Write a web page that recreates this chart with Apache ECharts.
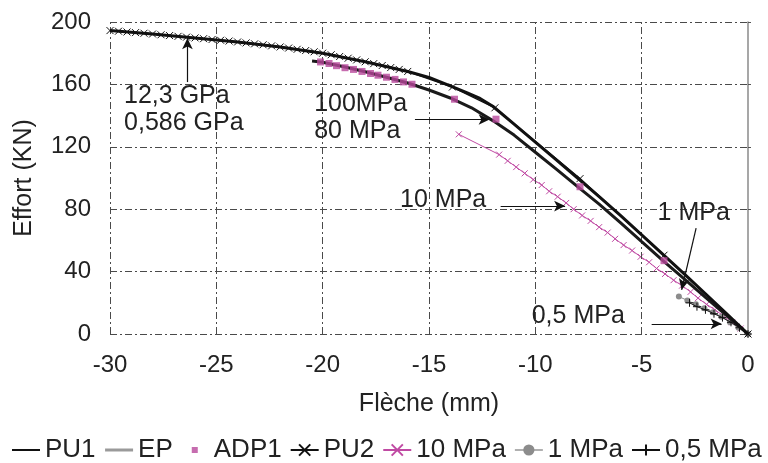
<!DOCTYPE html>
<html>
<head>
<meta charset="utf-8">
<script src="https://cdn.jsdelivr.net/npm/echarts@6/dist/echarts.min.js"></script>
<style>
html,body{margin:0;padding:0;background:#fff;}
#chart{width:768px;height:463px;}
</style>
</head>
<body>
<div id="chart"></div>
<script>
// ---- data (x = Flèche (mm), y = Effort (kN)) ----
const xTicks = [-30, -25, -20, -15, -10, -5, 0];
const yTicks = [0, 40, 80, 120, 160, 200];

const pu1 = [[-30,194.5],[-28,192.3],[-26,189.8],[-24,187.2],[-22,184],[-20,180],[-18,174.5],[-16,168.3],[-15,164.5],[-14,159],[-13.2,154.5],[-12.6,151],[-12,146],[-11,134.5],[-10,123],[-9,111.5],[-8,99.8],[-7,88],[-6,76],[-5,63.5],[-4,51],[-3,38.5],[-2,25.8],[-1,13],[0,0]];

const pu2 = [[-30,194.5],[-29.6,194.1],[-29.2,193.6],[-28.8,193.2],[-28.4,192.8],[-28,192.3],[-27.6,191.8],[-27.2,191.3],[-26.8,190.8],[-26.4,190.3],[-26,189.8],[-25.6,189.3],[-25.2,188.8],[-24.8,188.3],[-24.4,187.8],[-24,187.2],[-23.6,186.6],[-23.2,186],[-22.8,185.4],[-22.4,184.7],[-22,184],[-21.6,183.3],[-21.2,182.5],[-20.8,181.7],[-20.4,180.9],[-20,180],[-19.6,179],[-19.2,177.9],[-18.8,176.8],[-18.4,175.7],[-18,174.5],[-17.6,173.3],[-17.2,172.1],[-16.8,170.8],[-16.4,169.6],[-16,168.3],[-13.9,158.3],[-11.9,145],[-7.9,99.6],[-3.95,50.5],[0,0]];

const ep = [[-20.5,175],[-20,174.2],[-19,171.3],[-18,168.1],[-17,164.6],[-16,160.9],[-15,156.4],[-14,151.3],[-13,145],[-12,136.8],[-11,127.5],[-10,116.5],[-9,105.5],[-8,94.3],[-7,83.3],[-6,71.4],[-5,59.2],[-4,47.1],[-3,35.3],[-2,23.5],[-1,11.8],[0,0]];

const adp1 = [[-20.1,174.4],[-19.7,173.4],[-19.35,172],[-18.95,170.7],[-18.55,169.6],[-18.15,168.3],[-17.75,167],[-17.4,165.9],[-17,164.6],[-16.6,163.2],[-16.2,161.6],[-15.8,160.1],[-13.8,150.5],[-11.85,137.7],[-7.9,94.4],[-3.95,47]];

const mpa10 = [[-13.6,128],[-11.7,115],[-11.3,111],[-10.9,107],[-10.5,103],[-10.1,99],[-9.7,95.5],[-9.35,91.5],[-8.95,88],[-8.55,84],[-8.2,80],[-7.8,76],[-7.4,72.5],[-7,68.5],[-6.6,65],[-6.25,61],[-5.85,57],[-5.45,53.5],[-5.05,49.5],[-4.65,46],[-4.3,42],[-3.9,38.5],[-3.5,34.5],[-3.1,31],[-2.7,27],[-2.35,23],[-1.95,19],[-1.55,15.5],[-1.15,11.5],[-0.75,7.5],[-0.35,3.5],[0,0]];

const mpa1 = [[-3.25,24],[-2.85,21.5],[-2.45,19],[-2.05,16.5],[-1.65,14],[-1.25,11],[-0.85,7.5],[-0.45,4],[0,0]];

const mpa05 = [[-2.75,20],[-2.4,17.5],[-2,15.5],[-1.6,13],[-1.2,10.5],[-0.8,7.5],[-0.4,4],[0,0]];

// annotations: text anchor (left/middle) and arrow from -> to, in data units
const annTexts = ['12,3 GPa\n0,586 GPa', '100MPa\n80 MPa', '10 MPa', '1 MPa', '0,5 MPa'];
const annAt = [[-29.34,144], [-20.4,138.4], [-16.36,85.9], [-4.25,77.4], [-10.17,11.2]];
const annFrom = [[-26.36,161.5], [-15.66,137.5], [-11.63,82], [-2.44,67.8], [-4.53,6.5]];
const annTo = [[-26.36,189.6], [-12.15,137.5], [-8.6,82], [-3.12,28.3], [-1.24,6.5]];

// ---- chart ----
const FONT = "'Liberation Sans', Arial, Helvetica, sans-serif";
const X_PATH = 'path://M0,0L10,10M10,0L0,10';
const PLUS_PATH = 'path://M5,0L5,10M0,5L10,5';
const SQ_PATH = 'path://M0,0L0.05,0L0.05,0.05Z M11,4L17,4L17,10L11,10Z M27.95,13.95L28,13.95L28,14Z';
const PINK = '#c04aa3';
const GRID_DASH = [7,3,2,3];

const chart = echarts.init(document.getElementById('chart'), null, {renderer:'canvas'});

const markLineData = annFrom.map((f,i)=>[
  {coord:f, symbol:'none'},
  {coord:annTo[i], symbol:'arrow', symbolSize:[8,11]}
]);
const markPointData = annTexts.map((t,i)=>({
  coord: annAt[i], value: t, symbol:'circle', symbolSize:0,
  label:{show:true, formatter:t, position:'inside', align:'left', verticalAlign:'middle',
         color:'#222', fontSize:25, fontFamily:FONT, lineHeight:27}
}));
// vertical grid lines at the x ticks (drawn as markLines since they follow the axis scale)
const vGridData = xTicks.slice(0, -1).map(v => ({xAxis: v}));

const option = {
  animation:false,
  backgroundColor:'#fff',
  textStyle:{fontFamily:FONT},
  grid:{left:110, right:20, top:22, bottom:129, containLabel:false},
  legend:{
    left:11, top:432, itemGap:8, itemWidth:28, itemHeight:14, padding:[5,0,5,0],
    textStyle:{fontSize:26, color:'#222', fontFamily:FONT},
    data:[
      {name:'PU1', itemStyle:{opacity:0}},
      {name:'EP', lineStyle:{color:'#9a9a9a', width:3}, itemStyle:{opacity:0}},
      {name:'ADP1', icon:SQ_PATH},
      {name:'PU2'},
      {name:'10 MPa'},
      {name:'1 MPa', lineStyle:{color:'#b0b0b0'}},
      {name:'0,5 MPa'}
    ]
  },
  xAxis:{
    type:'value', min:xTicks[0], max:xTicks[xTicks.length-1], interval:5,
    name:'Flèche (mm)', nameLocation:'middle', nameGap:58,
    nameTextStyle:{fontSize:25, color:'#222', fontFamily:FONT},
    axisLine:{show:false}, axisTick:{show:false},
    axisLabel:{fontSize:24, color:'#222', margin:19, fontFamily:FONT},
    splitLine:{show:false}
  },
  yAxis:[{
    type:'value', min:yTicks[0], max:yTicks[yTicks.length-1], interval:40,
    name:'Effort (KN)', nameLocation:'middle', nameGap:73,
    nameTextStyle:{fontSize:25, color:'#222', fontFamily:FONT},
    axisLine:{show:false}, axisTick:{show:false},
    axisLabel:{fontSize:24, color:'#222', margin:19, fontFamily:FONT},
    splitLine:{show:true, lineStyle:{color:'#4a4a4a', width:1, type:GRID_DASH}}
  },{
    type:'value', position:'right', min:yTicks[0], max:yTicks[yTicks.length-1], interval:40,
    axisLine:{show:true, lineStyle:{color:'#8a8a8a', width:1.5}},
    axisTick:{show:true, inside:false, length:3, lineStyle:{color:'#555'}},
    axisLabel:{show:false}, splitLine:{show:false}
  }],
  series:[
    {name:'grid', type:'line', data:[], z:1, silent:true,
     markLine:{silent:true, animation:false, symbol:['none','none'], label:{show:false},
       lineStyle:{color:'#4a4a4a', width:1, type:GRID_DASH}, emphasis:{disabled:true}, data:vGridData}},
    {name:'10 MPa', type:'line', data:mpa10, z:2,
     lineStyle:{color:PINK, width:1}, itemStyle:{color:PINK, borderColor:PINK, borderWidth:1},
     symbol:X_PATH, symbolSize:6, showSymbol:true},
    {name:'1 MPa', type:'line', data:mpa1, z:3,
     lineStyle:{color:'#8c8c8c', width:1}, itemStyle:{color:'#8c8c8c'},
     symbol:'circle', symbolSize:6},
    {name:'0,5 MPa', type:'line', data:mpa05, z:4,
     lineStyle:{color:'#111', width:1}, itemStyle:{color:'#111', borderColor:'#111', borderWidth:1},
     symbol:PLUS_PATH, symbolSize:8},
    {name:'EP', type:'line', data:ep, z:5, showSymbol:false, symbol:'none',
     lineStyle:{color:'#1a1a1a', width:3}, itemStyle:{color:'#1a1a1a'}},
    {name:'PU1', type:'line', data:pu1, z:6, showSymbol:false, symbol:'none',
     lineStyle:{color:'#111', width:3}, itemStyle:{color:'#111'},
     markLine:{silent:true, animation:false, symbol:['none','arrow'], label:{show:false},
       lineStyle:{color:'#111', width:1.2, type:'solid'}, emphasis:{disabled:true}, data:markLineData},
     markPoint:{silent:true, animation:false, data:markPointData}},
    {name:'PU2', type:'line', data:pu2, z:7,
     lineStyle:{color:'#111', width:1.5}, itemStyle:{color:'#111', borderColor:'#111', borderWidth:1},
     symbol:X_PATH, symbolSize:7},
    {name:'ADP1', type:'scatter', data:adp1, z:8,
     symbol:'rect', symbolSize:7, itemStyle:{color:'#b8479b'}}
  ]
};
chart.setOption(option);
</script>
</body>
</html>
